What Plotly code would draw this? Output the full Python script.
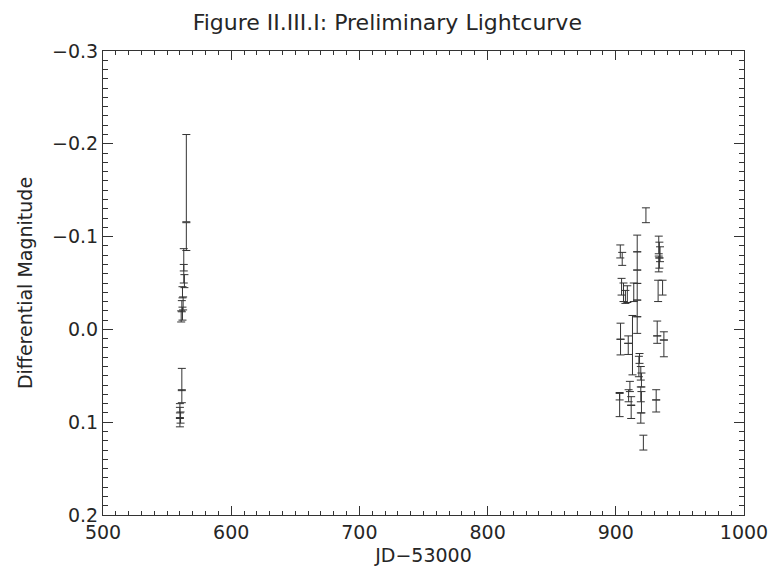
import plotly.graph_objects as go

# Observations: JD-53000, differential magnitude, 1-sigma error
jd = [
    565.0, 565.0, 563.0, 563.0, 563.5, 562.0, 562.5, 561.5, 562.0, 561.0,
    561.5, 561.5, 560.0, 560.0, 560.5, 560.0,
    903.5, 905.0, 904.5, 906.0, 907.5, 909.0,
    903.7, 903.7, 909.7, 909.7, 913.0, 914.0,
    916.7, 916.7, 916.7, 916.7, 916.7, 916.7,
    918.0, 903.0, 903.0, 911.0, 910.0, 912.0, 912.0,
    918.5, 919.5, 920.0, 919.5, 920.0, 919.5,
    921.5, 923.5,
    933.5, 934.0, 934.5, 934.0, 933.5, 933.0, 936.5,
    932.3, 932.3, 937.5, 937.5, 931.5, 931.5,
]
mag = [
    -0.163, -0.100, -0.075, -0.060, -0.052, -0.040, -0.028, -0.025, -0.017, -0.014,
    0.054, 0.072, 0.085, 0.090, 0.095, 0.100,
    -0.084, -0.076, -0.046, -0.040, -0.035, -0.038,
    0.002, 0.019, 0.011, 0.021, 0.017, -0.040,
    -0.0926, -0.0738, -0.0567, -0.0406, -0.0226, -0.0047,
    0.040, 0.0815, 0.072, 0.0615, 0.0715, 0.077, 0.089,
    0.0313, 0.0473, 0.0545, 0.070, 0.0785, 0.0955,
    0.122, -0.123,
    -0.091, -0.0855, -0.081, -0.0715, -0.0705, -0.0415, -0.045,
    -0.001, 0.011, 0.007, 0.0205, 0.0705, 0.0825,
]
err = [
    0.047, 0.015, 0.012, 0.010, 0.007, 0.006, 0.007, 0.006, 0.007, 0.006,
    0.012, 0.007, 0.005, 0.006, 0.006, 0.005,
    0.007, 0.007, 0.009, 0.010, 0.007, 0.009,
    0.0087, 0.0085, 0.004, 0.006, 0.032, 0.010,
    0.009, 0.0098, 0.0072, 0.009, 0.009, 0.009,
    0.011, 0.0125, 0.004, 0.0055, 0.0065, 0.0045, 0.007,
    0.0053, 0.0073, 0.0075, 0.008, 0.0115, 0.0055,
    0.008, 0.008,
    0.0095, 0.0085, 0.008, 0.0055, 0.0085, 0.0115, 0.008,
    0.008, 0.004, 0.0044, 0.009, 0.0055, 0.0065,
]

x_ticks = [500, 600, 700, 800, 900, 1000]
y_ticks = [-0.3, -0.2, -0.1, 0.0, 0.1, 0.2]

ink = "#333333"
text_ink = "#262626"
font_family = "DejaVu Sans, Open Sans, sans-serif"

fig = go.Figure()
fig.add_trace(go.Scatter(
    x=jd, y=mag, mode="markers",
    marker=dict(size=1, color=ink, opacity=0),
    error_y=dict(type="data", array=err, visible=True,
                 color=ink, thickness=1, width=4),
    showlegend=False, hoverinfo="x+y",
))

axis_common = dict(
    showgrid=False, zeroline=False, showline=True, linecolor=ink, linewidth=1,
    mirror="ticks", ticks="inside", tickcolor=ink, tickwidth=1, automargin=False,
    ticklabeloverflow="allow",
    tickfont=dict(family=font_family, size=19, color=text_ink),
)

fig.update_layout(
    width=770, height=573,
    paper_bgcolor="white", plot_bgcolor="white",
    margin=dict(l=103, r=26, t=51, b=58),
    title=dict(text="Figure II.III.I: Preliminary Lightcurve",
               x=0.503, xanchor="center", y=0.974, yanchor="top",
               font=dict(family=font_family, size=22, color=text_ink)),
    xaxis=dict(
        range=[500, 1000], tickvals=x_ticks, ticklen=9,
        minor=dict(dtick=10, ticks="inside", ticklen=4, tickcolor=ink, showgrid=False),
        title=dict(text="JD−53000", standoff=6,
                   font=dict(family=font_family, size=19, color=text_ink)),
        **axis_common,
    ),
    yaxis=dict(
        range=[0.2, -0.3], tickvals=y_ticks, tickformat=".1f", ticklen=10,
        minor=dict(dtick=0.01, ticks="inside", ticklen=5, tickcolor=ink, showgrid=False),
        title=dict(text="Differential Magnitude", standoff=14,
                   font=dict(family=font_family, size=19, color=text_ink)),
        **axis_common,
    ),
)

# remove the default page margin so the 770x573 figure fills the window exactly
fig.write_html("out.html",
               config={"displayModeBar": False},
               post_script="document.body.style.margin='0';document.body.style.overflow='hidden';")
